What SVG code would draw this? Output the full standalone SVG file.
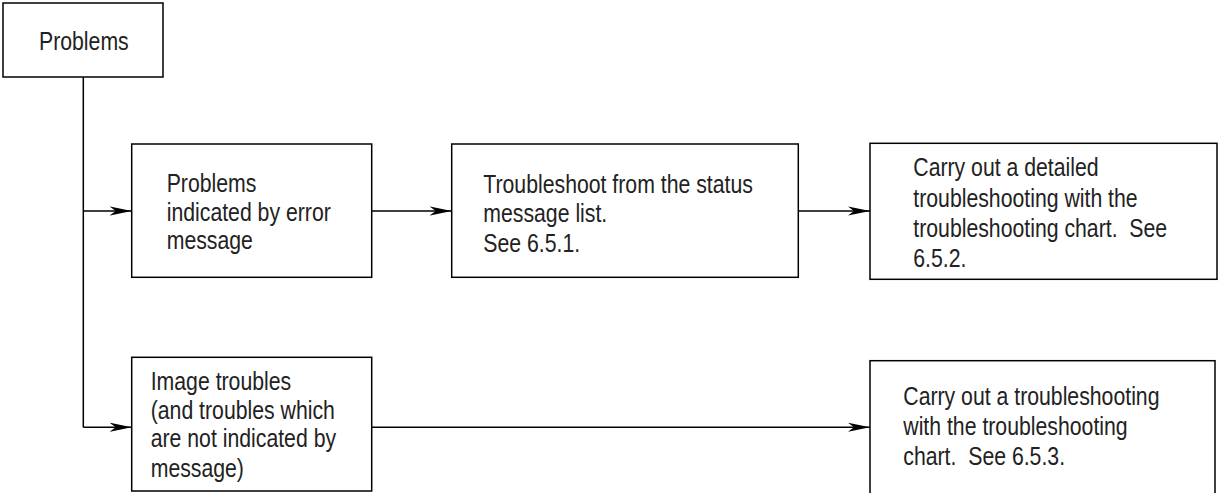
<svg xmlns="http://www.w3.org/2000/svg" width="1218" height="493" viewBox="0 0 1218 493">
<style>
.box{fill:#fff;stroke:#000;stroke-width:1.5}
.t{font-family:"Liberation Sans",Arial,sans-serif;font-size:25px;fill:#222;white-space:pre}
.c{fill:none;stroke:#000;stroke-width:1.5}
</style>
<defs>
<marker id="ah" markerUnits="userSpaceOnUse" markerWidth="24" markerHeight="12" refX="22" refY="5" orient="auto" viewBox="0 0 24 10">
<path d="M0,0.5 L22,5 L0,9.5 L6,5 Z" fill="#000"/>
</marker>
</defs>
<g id="n1"><rect class="box" x="3" y="3" width="160" height="74"/><text class="t" transform="translate(39,0) scale(0.85,1)" x="0" y="50">Problems</text></g>
<g id="n2"><rect class="box" x="131.7" y="144" width="240" height="133.3"/><text class="t" transform="translate(166.7,0) scale(0.85,1)"><tspan x="0" y="192">Problems</tspan><tspan x="0" y="220.7">indicated by error</tspan><tspan x="0" y="249">message</tspan></text></g>
<g id="n3"><rect class="box" x="451.7" y="144" width="346.6" height="133.3"/><text class="t" transform="translate(483.3,0) scale(0.85,1)"><tspan x="0" y="192.7">Troubleshoot from the status</tspan><tspan x="0" y="221.7">message list.</tspan><tspan x="0" y="251.7">See 6.5.1.</tspan></text></g>
<g id="n4"><rect class="box" x="870" y="143.3" width="347" height="136"/><text class="t" transform="translate(913.3,0) scale(0.85,1)"><tspan x="0" y="176">Carry out a detailed</tspan><tspan x="0" y="206.7">troubleshooting with the</tspan><tspan x="0" y="237.3">troubleshooting chart.  See</tspan><tspan x="0" y="266.7">6.5.2.</tspan></text></g>
<g id="n5"><rect class="box" x="131.7" y="357.3" width="240" height="133.7"/><text class="t" transform="translate(150.7,0) scale(0.85,1)"><tspan x="0" y="390">Image troubles</tspan><tspan x="0" y="418.7">(and troubles which</tspan><tspan x="0" y="447.3">are not indicated by</tspan><tspan x="0" y="476.7">message)</tspan></text></g>
<g id="n6"><rect class="box" x="870" y="360.7" width="345" height="140"/><text class="t" transform="translate(903.3,0) scale(0.85,1)"><tspan x="0" y="405">Carry out a troubleshooting</tspan><tspan x="0" y="435">with the troubleshooting</tspan><tspan x="0" y="465">chart.  See 6.5.3.</tspan></text></g>
<g id="connectors">
<path class="c" d="M83.3,77 V427.3"/>
<path class="c" d="M83.3,211 H131.7" marker-end="url(#ah)"/>
<path class="c" d="M371.7,211 H451.7" marker-end="url(#ah)"/>
<path class="c" d="M798.3,211 H870" marker-end="url(#ah)"/>
<path class="c" d="M83.3,427.3 H131.7" marker-end="url(#ah)"/>
<path class="c" d="M371.7,427.3 H870" marker-end="url(#ah)"/>
</g>
</svg>
